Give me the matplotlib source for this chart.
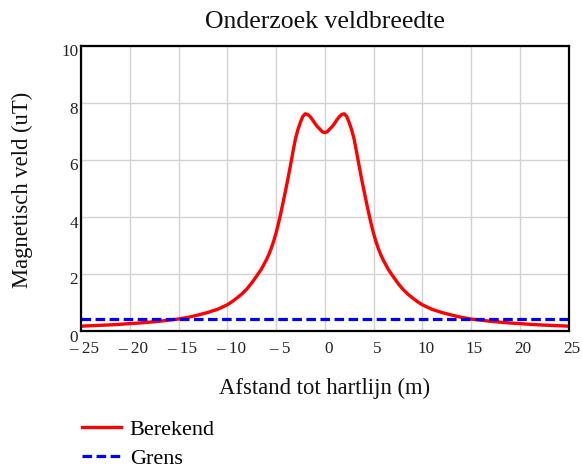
import matplotlib
matplotlib.use('Agg')
import matplotlib.pyplot as plt
from matplotlib.transforms import ScaledTranslation

afstand = [-25, -24, -23, -22, -21, -20, -19, -18, -17, -16, -15, -14, -13, -12, -11, -10,
           -9.5, -9, -8.5, -8, -7.5, -7, -6.5,
           -6, -5.75, -5.5, -5.25, -5, -4.75, -4.5, -4.25, -4, -3.75, -3.5,
           -3.25, -3, -2.75, -2.5, -2.25, -2, -1.75, -1.5, -1.25, -1, -0.75, -0.5, -0.25,
           0,
           0.25, 0.5, 0.75, 1, 1.25, 1.5, 1.75, 2, 2.25, 2.5, 2.75, 3, 3.25,
           3.5, 3.75, 4, 4.25, 4.5, 4.75, 5, 5.25, 5.5, 5.75, 6,
           6.5, 7, 7.5, 8, 8.5, 9, 9.5,
           10, 11, 12, 13, 14, 15, 16, 17, 18, 19, 20, 21, 22, 23, 24, 25]
veld = [0.17, 0.185, 0.20, 0.215, 0.235, 0.26, 0.28, 0.31, 0.34, 0.38, 0.42, 0.48, 0.56, 0.65, 0.76, 0.92,
        1.03, 1.16, 1.30, 1.47, 1.68, 1.92, 2.17,
        2.49, 2.67, 2.89, 3.14, 3.43, 3.77, 4.15, 4.55, 4.96, 5.39, 5.84,
        6.31, 6.75, 7.07, 7.32, 7.53, 7.62, 7.60, 7.52, 7.41, 7.28, 7.17, 7.08, 6.99,
        6.96,
        6.99, 7.08, 7.17, 7.28, 7.41, 7.52, 7.60, 7.62, 7.53, 7.32, 7.07, 6.75, 6.31,
        5.84, 5.39, 4.96, 4.55, 4.15, 3.77, 3.43, 3.14, 2.89, 2.67, 2.49,
        2.17, 1.92, 1.68, 1.47, 1.30, 1.16, 1.03,
        0.92, 0.76, 0.65, 0.56, 0.48, 0.42, 0.38, 0.34, 0.31, 0.28, 0.26, 0.235, 0.215, 0.20, 0.185, 0.17]
grens = 0.41

x_ticks = [-25, -20, -15, -10, -5, 0, 5, 10, 15, 20, 25]
x_labels = ['– 25', '– 20', '– 15', '– 10', '– 5', '0', '5', '10', '15', '20', '25']
y_ticks = [0, 2, 4, 6, 8, 10]

plt.rcParams['font.family'] = ['Liberation Serif', 'DejaVu Serif']

fig = plt.figure(figsize=(5.82, 4.68), dpi=100)
ax = fig.add_axes([81/582, 1 - 331/468, 487.5/582, 285/468])

ax.plot(afstand, veld, color='#ff0000', lw=2.4, solid_joinstyle='round', label='Berekend')
ax.plot([afstand[0], afstand[-1]], [grens, grens], color='#0000ff', lw=2.3,
        dashes=(3, 1.4), label='Grens')

ax.set_xlim(-25, 25)
ax.set_ylim(0, 10)
ax.set_xticks(x_ticks)
ax.set_xticklabels(x_labels)
ax.set_yticks(y_ticks)
ax.grid(True, color='#d2d2d2', lw=1.0)
ax.set_axisbelow(True)
ax.tick_params(length=0, labelsize=12.3, colors='#222222')
ax.tick_params(axis='x', pad=7.5)
ax.tick_params(axis='y', pad=2)
for s in ax.spines.values():
    s.set_linewidth(1.6)
    s.set_color('black')

for lbl in ax.get_xticklabels():
    lbl.set_transform(lbl.get_transform() + ScaledTranslation(0.035, 0, fig.dpi_scale_trans))
for lbl in ax.get_yticklabels():
    lbl.set_transform(lbl.get_transform() + ScaledTranslation(0, -0.045, fig.dpi_scale_trans))

fig.text(324.75/582, 1 - 22/468, 'Onderzoek veldbreedte', ha='center', va='center',
         fontsize=18.5, color='#111111')
fig.text(324.75/582, 1 - 388/468, 'Afstand tot hartlijn (m)', ha='center', va='center',
         fontsize=16.3, color='#111111')
fig.text(22/582, 1 - 190/468, 'Magnetisch veld (uT)', ha='center', va='center',
         rotation=90, fontsize=16.3, color='#111111')

fig.legend(loc='upper left', bbox_to_anchor=(82/582, 1 - 419/468), frameon=False,
           fontsize=16, borderpad=0, borderaxespad=0, handlelength=1.75,
           handletextpad=0.4, labelspacing=0.4)

fig.savefig('out.png', dpi=100)
